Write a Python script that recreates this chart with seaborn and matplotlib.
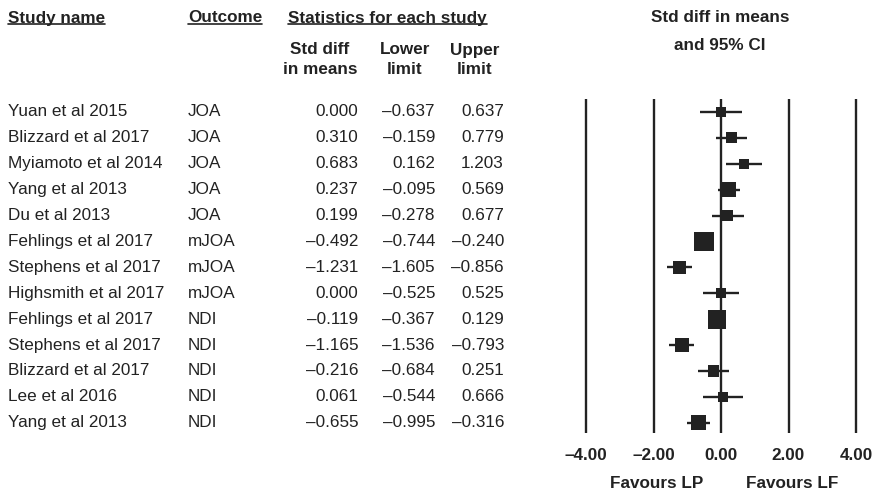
import numpy as np
import pandas as pd
import seaborn as sns
import matplotlib.pyplot as plt
from matplotlib.lines import Line2D
from matplotlib.transforms import blended_transform_factory

sns.set_style("white")
plt.rcParams['font.family'] = ['Liberation Sans', 'DejaVu Sans']

# data
studies = ["Yuan et al 2015", "Blizzard et al 2017", "Myiamoto et al 2014", "Yang et al 2013",
           "Du et al 2013", "Fehlings et al 2017", "Stephens et al 2017", "Highsmith et al 2017",
           "Fehlings et al 2017", "Stephens et al 2017", "Blizzard et al 2017", "Lee et al 2016",
           "Yang et al 2013"]
outcomes = ["JOA", "JOA", "JOA", "JOA", "JOA", "mJOA", "mJOA", "mJOA",
            "NDI", "NDI", "NDI", "NDI", "NDI"]
smd = [0.000, 0.310, 0.683, 0.237, 0.199, -0.492, -1.231, 0.000, -0.119, -1.165, -0.216, 0.061, -0.655]
lower = [-0.637, -0.159, 0.162, -0.095, -0.278, -0.744, -1.605, -0.525, -0.367, -1.536, -0.684, -0.544, -0.995]
upper = [0.637, 0.779, 1.203, 0.569, 0.677, -0.240, -0.856, 0.525, 0.129, -0.793, 0.251, 0.666, -0.316]
# relative weight (estimated from square areas)
weight = [4.3, 5.2, 4.3, 9.6, 5.2, 17.1, 7.2, 4.3, 15.4, 8.4, 5.2, 4.3, 9.6]
xticks = [-4, -2, 0, 2, 4]

df = pd.DataFrame({'study': studies, 'outcome': outcomes, 'smd': smd,
                   'lower': lower, 'upper': upper, 'weight': weight})
df['row'] = np.arange(len(df))

W, H = 876, 497
fx = lambda px: px / W
fy = lambda py: 1 - py / H
ink = '#222222'
fs = 12.3

fig = plt.figure(figsize=(W / 100, H / 100), dpi=100)
# forest panel: x=-4 at 586px, x=4 at 856px; lines from 99px to 433px
unit = (856 - 586) / 8
ax = fig.add_axes([fx(586 - 0.2 * unit), fy(433), (8.4 * unit) / W, (433 - 99) / H])
ax.set_xlim(-4.2, 4.2)
row0, step = 112, 25.9
ax.set_ylim((433 - row0) / step, (99 - row0) / step)

for t in xticks:
    ax.axvline(t, color=ink, lw=1.7, zorder=1)
ax.hlines(df['row'], df['lower'], df['upper'], color=ink, lw=1.7, zorder=2)
k = 12.1
sns.scatterplot(data=df, x='smd', y='row', size='weight', marker='s', color=ink,
                sizes=(min(weight) * k, max(weight) * k), size_norm=(min(weight), max(weight)),
                linewidth=0, legend=False, ax=ax, zorder=3)

for s in ax.spines.values():
    s.set_visible(False)
ax.set_yticks([])
ax.set_xticks(xticks)
ax.set_xticklabels([f"{t:.2f}".replace('-', '\u2013') for t in xticks], fontweight='bold',
                   fontsize=fs, color=ink)
ax.tick_params(axis='x', length=0, pad=11)
ax.set_xlabel('')
ax.set_ylabel('')

# table on the left
tr = blended_transform_factory(fig.transFigure, ax.transData)
fmt = lambda v: f"{v:.3f}".replace('-', '\u2013')
for _, r in df.iterrows():
    ax.text(fx(8), r['row'], r['study'], transform=tr, ha='left', va='center', fontsize=fs, color=ink)
    ax.text(fx(188), r['row'], r['outcome'], transform=tr, ha='left', va='center', fontsize=fs, color=ink)
    ax.text(fx(358), r['row'], fmt(r['smd']), transform=tr, ha='right', va='center', fontsize=fs, color=ink)
    ax.text(fx(435), r['row'], fmt(r['lower']), transform=tr, ha='right', va='center', fontsize=fs, color=ink)
    ax.text(fx(504), r['row'], fmt(r['upper']), transform=tr, ha='right', va='center', fontsize=fs, color=ink)

# headers
heads = [
    fig.text(fx(8), fy(18), "Study name", ha='left', va='center', fontsize=fs, fontweight='bold', color=ink),
    fig.text(fx(188), fy(18), "Outcome", ha='left', va='center', fontsize=fs, fontweight='bold', color=ink),
    fig.text(fx(288), fy(18), "Statistics for each study", ha='left', va='center', fontsize=fs,
             fontweight='bold', color=ink),
]
fig.text(fx(720), fy(18), "Std diff in means", ha='center', va='center', fontsize=fs, fontweight='bold', color=ink)
fig.text(fx(720), fy(45), "and 95% CI", ha='center', va='center', fontsize=fs, fontweight='bold', color=ink)
for cx, l1, l2 in [(320, "Std diff", "in means"), (405, "Lower", "limit"), (475, "Upper", "limit")]:
    fig.text(fx(cx), fy(50), l1, ha='center', va='center', fontsize=fs, fontweight='bold', color=ink)
    fig.text(fx(cx), fy(69), l2, ha='center', va='center', fontsize=fs, fontweight='bold', color=ink)

fig.text(fx(657), fy(484), "Favours LP", ha='center', va='center', fontsize=fs, fontweight='bold', color=ink)
fig.text(fx(792), fy(484), "Favours LF", ha='center', va='center', fontsize=fs, fontweight='bold', color=ink)

# underline the top headers
fig.canvas.draw()
for t in heads:
    bb = t.get_window_extent().transformed(fig.transFigure.inverted())
    fig.add_artist(Line2D([bb.x0, bb.x1], [bb.y0 + 1.5 / H, bb.y0 + 1.5 / H],
                          transform=fig.transFigure, color=ink, lw=1.2))

fig.savefig("out.png", dpi=100)
